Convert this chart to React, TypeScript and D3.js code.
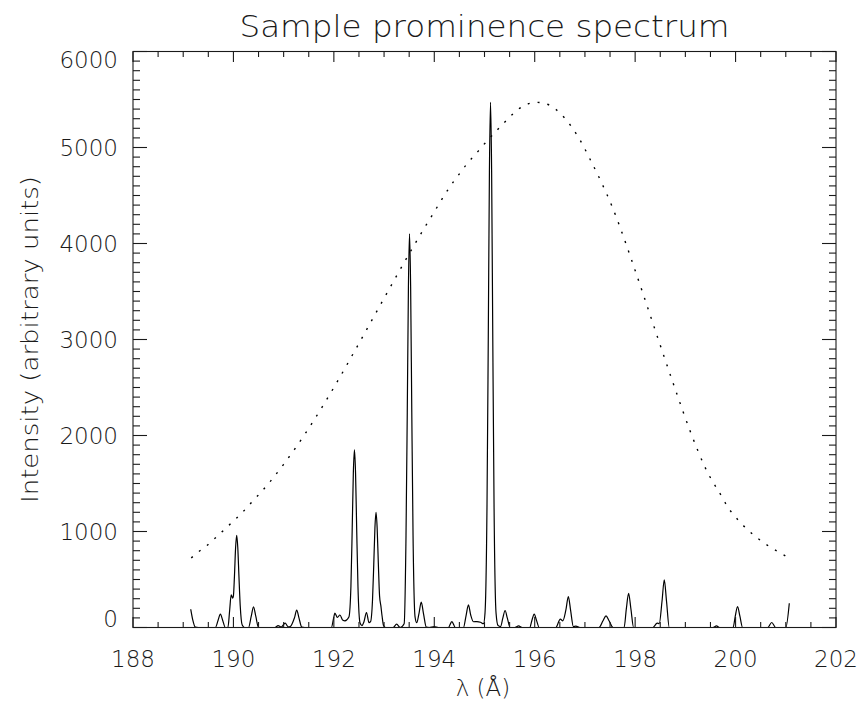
import React from 'react';
import * as d3 from 'd3';

// Observed spectrum: [wavelength (Å), intensity]
const spectrum: [number, number][] = [
  [189.15, 190], [189.19, 80], [189.24, 5], [189.3, 0],
  [189.64, 0], [189.695, 75], [189.74, 140], [189.785, 75], [189.84, 0],
  [189.89, 0], [189.925, 180], [189.955, 340], [189.985, 305], [190.0, 330], [190.02, 530], [190.043, 830],
  [190.065, 960], [190.087, 830], [190.11, 530], [190.135, 230], [190.175, 25], [190.22, 0],
  [190.3, 0], [190.355, 118], [190.4, 215], [190.445, 118], [190.5, 0],
  [190.83, 0], [190.89, 20], [190.95, 5], [191.03, 45], [191.09, 8], [191.13, 10], [191.215, 100],
  [191.26, 180], [191.305, 100], [191.36, 5], [191.42, 0],
  [191.95, 0], [192.0, 110], [192.02, 150], [192.07, 105], [192.12, 130], [192.18, 75], [192.22, 70],
  [192.3, 110], [192.34, 430], [192.365, 1015], [192.388, 1610], [192.41, 1850], [192.432, 1610],
  [192.455, 1015], [192.48, 430], [192.52, 50], [192.56, 20],
  [192.6, 60], [192.65, 156], [192.7, 50], [192.73, 60], [192.77, 290], [192.795, 660], [192.818, 1040],
  [192.84, 1200], [192.862, 1040], [192.885, 680], [192.91, 330], [192.935, 230], [192.96, 120],
  [192.99, 20], [193.03, 0],
  [193.18, 0], [193.25, 35], [193.32, 0],
  [193.4, 40], [193.437, 960], [193.462, 2240], [193.485, 3550], [193.507, 4100], [193.529, 3550],
  [193.552, 2240], [193.577, 960], [193.617, 110], [193.65, 50],
  [193.695, 145], [193.74, 264], [193.785, 145], [193.84, 5], [193.9, 0], [194.0, 10], [194.08, 0],
  [194.28, 0], [194.35, 62], [194.42, 0],
  [194.58, 0], [194.635, 130], [194.68, 236], [194.725, 130], [194.78, 60], [194.85, 62], [194.92, 55],
  [194.98, 40],
  [195.01, 150], [195.05, 1280], [195.075, 3000], [195.098, 4750], [195.12, 5470], [195.142, 4750],
  [195.165, 3000], [195.19, 1280], [195.23, 150], [195.27, 20],
  [195.32, 10], [195.365, 97], [195.41, 177], [195.455, 97], [195.51, 0],
  [195.6, 0], [195.68, 17], [195.75, 0],
  [195.9, 0], [195.945, 76], [195.99, 139], [196.035, 76], [196.09, 0],
  [196.42, 0], [196.51, 87], [196.56, 70], [196.62, 180], [196.67, 323], [196.715, 178], [196.77, 10],
  [196.82, 15], [196.9, 0],
  [197.28, 0], [197.36, 70], [197.42, 121], [197.48, 70], [197.56, 0],
  [197.78, 0], [197.825, 196], [197.87, 357], [197.915, 196], [197.97, 0],
  [198.35, 0], [198.44, 45], [198.48, 40], [198.535, 273], [198.58, 496], [198.625, 273], [198.68, 0],
  [199.55, 0], [199.62, 17], [199.68, 0],
  [199.95, 0], [199.995, 120], [200.04, 219], [200.085, 120], [200.14, 0],
  [200.64, 0], [200.72, 52], [200.8, 0],
  [201.0, 0], [201.07, 253],
];

// Dotted response curve: [wavelength (Å), value]
const response: [number, number][] = [
  [189.16, 725], [189.32, 794], [189.48, 857], [189.62, 923], [189.77, 996], [189.92, 1069],
  [190.06, 1138], [190.2, 1211], [190.34, 1291], [190.7, 1500], [191.0, 1700], [191.5, 2075],
  [192.0, 2500], [192.5, 2960], [193.0, 3430], [193.3, 3710], [193.63, 4010], [193.84, 4195],
  [194.0, 4330], [194.15, 4460], [194.26, 4550], [194.38, 4642], [194.5, 4725], [194.62, 4809],
  [194.75, 4889], [194.88, 4965], [195.01, 5045], [195.28, 5197], [195.42, 5274], [195.56, 5347],
  [195.8, 5440], [196.05, 5470], [196.3, 5440], [196.5, 5360], [196.7, 5240], [196.9, 5080],
  [197.1, 4880], [197.32, 4646], [197.56, 4361], [197.77, 4067], [197.9, 3872], [198.2, 3410],
  [198.5, 2940], [198.8, 2480], [199.1, 2040], [199.4, 1660], [199.76, 1332], [199.84, 1256],
  [199.96, 1176], [200.09, 1096], [200.24, 1020], [200.39, 950], [200.55, 888], [200.71, 830],
  [200.89, 777], [201.06, 725],
];

const xMajorTicks = [188, 190, 192, 194, 196, 198, 200, 202];
const yMajorTicks = [0, 1000, 2000, 3000, 4000, 5000, 6000];
const titleText = 'Sample prominence spectrum';
const xTitle = 'λ (Å)';
const yTitle = 'Intensity (arbitrary units)';

export default function App() {
  const W = 862, H = 709;
  const L = 133, R = 836, T = 51.5, B = 627.5;
  const x = d3.scaleLinear().domain([188, 202]).range([L, R]);
  const y = d3.scaleLinear().domain([0, 6000]).range([B, T]);
  const line = d3.line<[number, number]>().x(d => x(d[0])).y(d => y(d[1])).curve(d3.curveMonotoneX);
  const xMinor = d3.range(188, 202.001, 0.5);
  const yMinor = d3.range(0, 6000.1, 100);
  const font = "'DejaVu Sans', 'Liberation Sans', sans-serif";
  const ink = '#1a1a1a';
  const isMajorX = (v: number) => Math.abs(v / 2 - Math.round(v / 2)) < 1e-6;
  const isMajorY = (v: number) => Math.abs(v / 1000 - Math.round(v / 1000)) < 1e-6;
  return (
    <svg width={W} height={H} style={{ position: 'absolute', left: 0, top: 0, background: '#fff' }}
      fontFamily={font} fontWeight={200}>
      <rect x={0} y={0} width={W} height={H} fill="#fff" />
      {/* spectrum */}
      <path d={line(spectrum) || ''} fill="none" stroke="#000" strokeWidth={1.2} strokeLinejoin="round" />
      {/* response curve */}
      <path d={line(response) || ''} fill="none" stroke="#000" strokeWidth={1.4} strokeDasharray="2 8" />
      {/* frame */}
      <rect x={L} y={T} width={R - L} height={B - T} fill="none" stroke={ink} strokeWidth={1.1} />
      {xMinor.map((v, i) => {
        const len = isMajorX(v) ? 10.5 : 5.5;
        return (
          <g key={'xt' + i} stroke={ink} strokeWidth={1.1}>
            <line x1={x(v)} x2={x(v)} y1={B} y2={B - len} />
            <line x1={x(v)} x2={x(v)} y1={T} y2={T + len} />
          </g>
        );
      })}
      {yMinor.map((v, i) => {
        const len = isMajorY(v) ? 14 : 7;
        return (
          <g key={'yt' + i} stroke={ink} strokeWidth={1.1}>
            <line x1={L} x2={L + len} y1={y(v)} y2={y(v)} />
            <line x1={R} x2={R - len} y1={y(v)} y2={y(v)} />
          </g>
        );
      })}
      {xMajorTicks.map(v => (
        <text key={'xl' + v} x={x(v)} y={667} textAnchor="middle" fontSize={23} fill={ink}>{v}</text>
      ))}
      {yMajorTicks.map((v, i) => {
        const dy = i === 0 ? -0.5 : i === yMajorTicks.length - 1 ? 16.5 : 8;
        return (
          <text key={'yl' + v} x={118} y={y(v) + dy} textAnchor="end" fontSize={23} fill={ink}>{v}</text>
        );
      })}
      <text x={(L + R) / 2} y={37} textAnchor="middle" fontSize={30} fill={ink}
        textLength={490} lengthAdjust="spacingAndGlyphs">{titleText}</text>
      <text x={483} y={696} textAnchor="middle" fontSize={23} fill={ink}>{xTitle}</text>
      <text transform={`translate(38, ${(T + B) / 2}) rotate(-90)`} textAnchor="middle" fontSize={23} fill={ink}
        textLength={327} lengthAdjust="spacingAndGlyphs">{yTitle}</text>
    </svg>
  );
}
